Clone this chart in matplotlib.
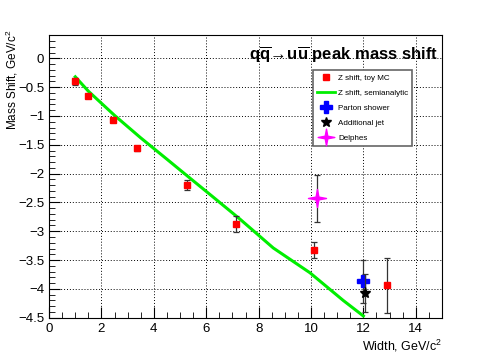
import numpy as np
import matplotlib
matplotlib.use("Agg")
import matplotlib.pyplot as plt
from matplotlib.ticker import MultipleLocator
from matplotlib.lines import Line2D
from matplotlib.path import Path

plt.rcParams['font.family'] = ['Liberation Sans', 'DejaVu Sans']
plt.rcParams['mathtext.fontset'] = 'custom'
plt.rcParams['mathtext.rm'] = 'Liberation Sans'
plt.rcParams['mathtext.bf'] = 'Liberation Sans:bold'
plt.rcParams['mathtext.it'] = 'Liberation Sans:italic'

# toy MC points
toy_x = [1.0, 1.5, 2.45, 3.37, 5.25, 7.13, 10.11, 12.91]
toy_y = [-0.40, -0.655, -1.075, -1.56, -2.20, -2.87, -3.32, -3.94]
toy_err = [0.06, 0.03, 0.03, 0.04, 0.09, 0.14, 0.14, 0.47]

# semianalytic curve
semi_x = [1.0, 1.5, 2.5, 3.5, 4.5, 5.25, 6.3, 7.29, 8.56, 9.96, 11.23, 12.0]
semi_y = [-0.32, -0.57, -0.99, -1.38, -1.75, -2.03, -2.42, -2.79, -3.29, -3.72, -4.20, -4.47]

# single points
ps_x, ps_y, ps_err = [12.0], [-3.87], [0.37]
jet_x, jet_y, jet_err = [12.05], [-4.07], [0.33]
del_x, del_y, del_err = [10.23], [-2.43], [0.41]

# thin four-pointed star like ROOT's marker
ang = np.arange(8) * np.pi / 4 + np.pi / 2
rad = np.where(np.arange(8) % 2 == 0, 1.0, 0.22)
star4 = Path(np.column_stack([rad * np.cos(ang), rad * np.sin(ang)]).tolist() + [[0, 1]],
             [Path.MOVETO] + [Path.LINETO] * 7 + [Path.CLOSEPOLY])

fig = plt.figure(figsize=(4.91, 3.53), dpi=100)
ax = fig.add_axes([0.1, 0.1, 0.8, 0.8])

ebkw = dict(ecolor='#333333', elinewidth=0.9, capsize=2, capthick=0.9)
ax.plot(semi_x, semi_y, color='#00ee00', lw=2.2, zorder=3)
ax.errorbar(toy_x, toy_y, yerr=toy_err, fmt='s', color='red', ms=4.5, zorder=4, **ebkw)
ax.errorbar(ps_x, ps_y, yerr=ps_err, fmt='P', color='blue', ms=9, zorder=5, **ebkw)
ax.errorbar(jet_x, jet_y, yerr=jet_err, fmt='*', color='black', ms=8, zorder=6, **ebkw)
ax.errorbar(del_x, del_y, yerr=del_err, fmt='none', zorder=4, **ebkw)
ax.plot(del_x, del_y, marker=star4, color='magenta', ms=13, ls='none', zorder=6)

ax.set_xlim(0, 15)
ax.set_ylim(-4.5, 0.4)
ax.xaxis.set_major_locator(MultipleLocator(2))
ax.xaxis.set_minor_locator(MultipleLocator(0.5))
ax.yaxis.set_major_locator(MultipleLocator(0.5))
ax.yaxis.set_minor_locator(MultipleLocator(0.1))
ax.tick_params(which='both', direction='in', top=False, right=False, labelsize=9.5)
ax.tick_params(which='major', length=8)
ax.tick_params(which='minor', length=4)
ax.yaxis.set_major_formatter(plt.FuncFormatter(lambda v, p: ('%g' % v).replace('-', '\u2212')))
ax.grid(True, which='major', ls=(0, (1, 2)), color='black', lw=0.7)

ax.set_xlabel(r'Width, GeV/c$^2$', fontsize=9, loc='right', labelpad=2)
fig.text(0.024, 0.915, r'Mass Shift, GeV/c$^2$', fontsize=8.5, rotation=90,
         ha='center', va='top')

ax.text(0.99, 0.93, r'$\mathbf{q\overline{q}\!\rightarrow\! u\overline{u}}$ peak mass shift',
        transform=ax.transAxes, ha='right', va='center', fontsize=12, fontweight='bold')

handles = [
    Line2D([], [], marker='s', color='red', ls='none', ms=4),
    Line2D([], [], color='#00ee00', lw=2),
    Line2D([], [], marker='P', color='blue', ls='none', ms=8),
    Line2D([], [], marker='*', color='black', ls='none', ms=7),
    Line2D([], [], marker=star4, color='magenta', ls='none', ms=12),
]
labels = ['Z shift, toy MC', 'Z shift, semianalytic', 'Parton shower', 'Additional jet', 'Delphes']
leg = ax.legend(handles, labels, loc='upper left',
                bbox_to_anchor=(0.672, 0.876), fontsize=5.8, frameon=True, fancybox=False,
                edgecolor='#666666', framealpha=1, handlelength=2.2, handletextpad=0.4,
                labelspacing=0.9, borderpad=0.5, borderaxespad=0)
leg.get_frame().set_linewidth(1.2)

fig.savefig('out.png', dpi=100)
